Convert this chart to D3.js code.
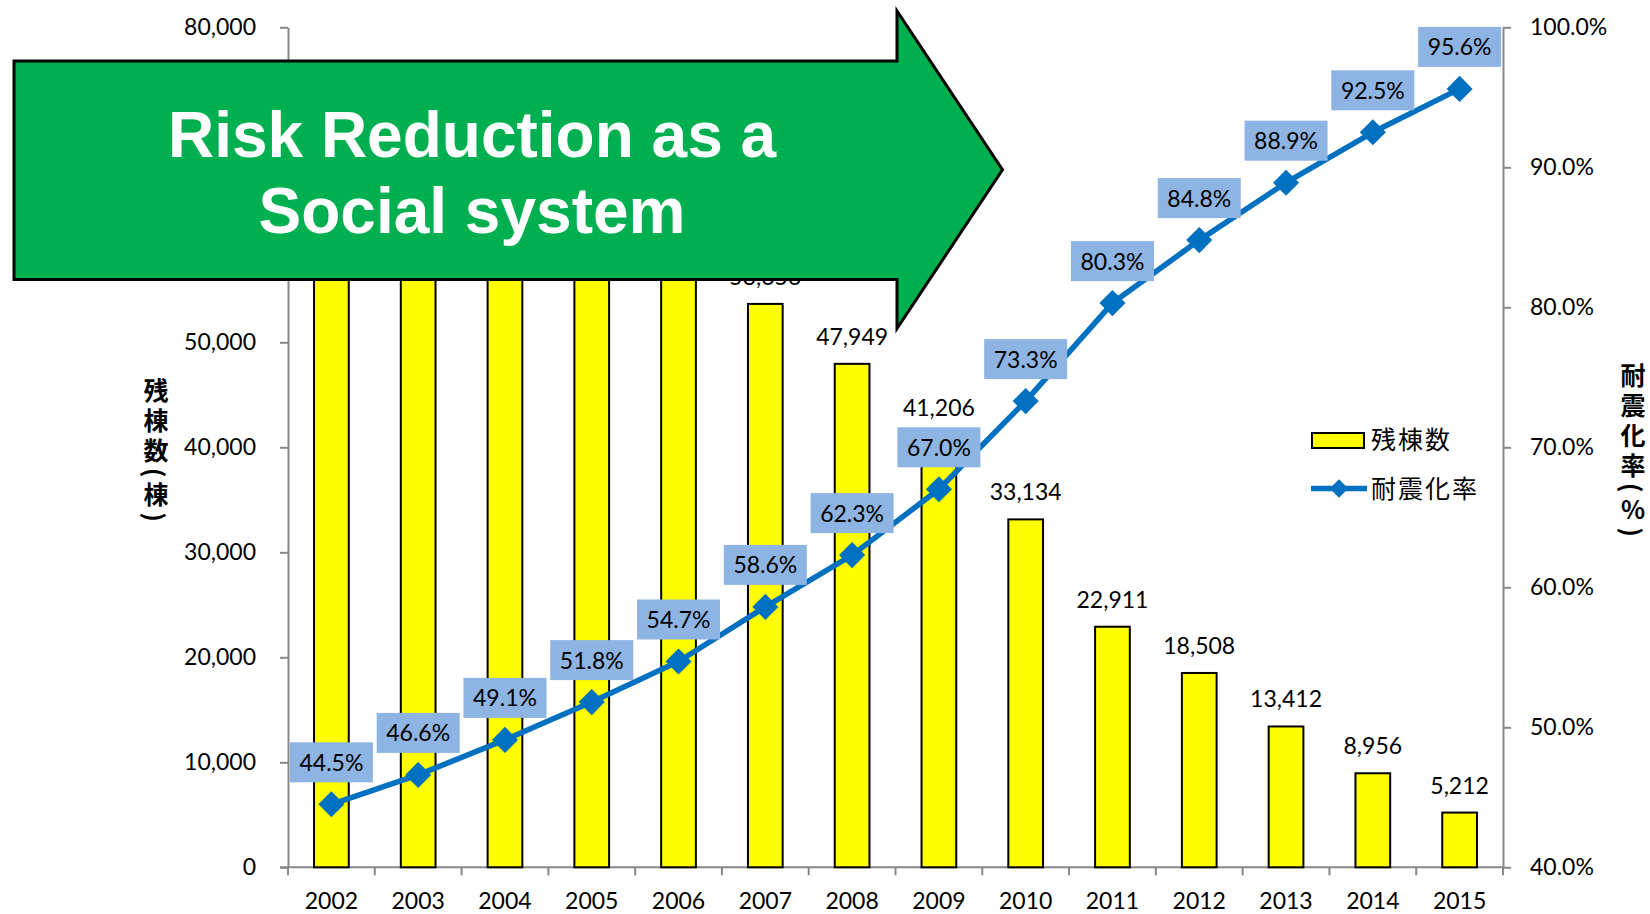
<!DOCTYPE html>
<html>
<head>
<meta charset="utf-8">
<script src="https://cdnjs.cloudflare.com/ajax/libs/d3/7.8.5/d3.min.js"></script>
<style>
  body { margin: 0; background: #fff; }
  svg { display: block; }
  .tick text { font-family: Lato, sans-serif; }
</style>
</head>
<body>
<div id="chart"></div>
<script>
// data
var years = ["2002", "2003", "2004", "2005", "2006", "2007", "2008", "2009", "2010", "2011", "2012", "2013", "2014", "2015"];
// remaining buildings (残棟数); 2002-2006 are hidden under the arrow, estimated
var remaining = [73000, 70200, 66700, 62800, 58900, 53656, 47949, 41206, 33134, 22911, 18508, 13412, 8956, 5212];
// seismic retrofit rate (耐震化率)
var rate = [0.445, 0.466, 0.491, 0.518, 0.547, 0.586, 0.623, 0.670, 0.733, 0.803, 0.848, 0.889, 0.925, 0.956];
var leftTicks = [0, 10000, 20000, 30000, 40000, 50000, 60000, 70000, 80000];
var rightTicks = [0.4, 0.5, 0.6, 0.7, 0.8, 0.9, 1.0];
var legendLabels = ["残棟数", "耐震化率"];
var leftTitle = "残棟数(棟)";
var rightTitle = "耐震化率(％)";
var bannerLines = ["Risk Reduction as a", "Social system"];

var width = 1650, height = 914;
var margin = {top: 27.3, right: 147, bottom: 46.7, left: 288};
var plotRight = width - margin.right;
var plotBottom = height - margin.bottom;
var fontSize = 23;

var svg = d3.select("#chart").append("svg")
    .attr("width", width)
    .attr("height", height);

var x = d3.scaleBand().domain(years).range([margin.left, plotRight]).padding(0);
var yLeft = d3.scaleLinear().domain([0, 80000]).range([plotBottom, margin.top]);
var yRight = d3.scaleLinear().domain([0.4, 1.0]).range([plotBottom, margin.top]);
var bw = x.bandwidth();
var axisColor = "#888888";

// banner arrow geometry (drawn last, over the chart)
var arrow = {left: 14, top: 61, bottom: 279.5, neck: 897, headTop: 11, headBottom: 328.5, tip: 1002.5};

// left axis
var leftAxis = d3.axisLeft(yLeft)
    .tickValues(leftTicks)
    .tickFormat(d3.format(","))
    .tickSize(8)
    .tickSizeOuter(0)
    .tickPadding(24);
var gl = svg.append("g")
    .attr("transform", "translate(" + margin.left + ",0)")
    .call(leftAxis);

// right axis
var rightAxis = d3.axisRight(yRight)
    .tickValues(rightTicks)
    .tickFormat(d3.format(".1%"))
    .tickSize(8)
    .tickSizeOuter(0)
    .tickPadding(19);
var gr = svg.append("g")
    .attr("transform", "translate(" + plotRight + ",0)")
    .call(rightAxis);

[gl, gr].forEach(function (g) {
    g.select(".domain").attr("stroke", axisColor).attr("stroke-width", 2);
    g.selectAll(".tick line").attr("stroke", axisColor).attr("stroke-width", 2);
    g.selectAll(".tick text").attr("font-size", fontSize).attr("fill", "#000");
});

// bottom axis: line, ticks on band boundaries, labels at band centres
var gb = svg.append("g");
gb.append("line")
    .attr("x1", margin.left - 8).attr("x2", plotRight)
    .attr("y1", plotBottom).attr("y2", plotBottom)
    .attr("stroke", axisColor).attr("stroke-width", 2);
var bounds = years.map(function (d) { return x(d); }).concat([x(years[years.length - 1]) + bw]);
gb.selectAll(".xtick").data(bounds).enter().append("line")
    .attr("x1", function (d) { return d; })
    .attr("x2", function (d) { return d; })
    .attr("y1", plotBottom).attr("y2", plotBottom + 8)
    .attr("stroke", axisColor).attr("stroke-width", 2);
gb.selectAll(".xlabel").data(years).enter().append("text")
    .attr("x", function (d) { return x(d) + bw / 2; })
    .attr("y", plotBottom + 42)
    .attr("text-anchor", "middle")
    .attr("font-family", "Lato, sans-serif")
    .attr("font-size", fontSize)
    .attr("fill", "#000")
    .text(function (d) { return d; });

// bars
svg.append("g").selectAll("rect").data(remaining).enter().append("rect")
    .attr("x", function (d, i) { return x(years[i]) + bw * 0.3; })
    .attr("y", function (d) { return yLeft(d); })
    .attr("width", bw * 0.4)
    .attr("height", function (d) { return plotBottom - yLeft(d); })
    .attr("fill", "#FFFF00")
    .attr("stroke", "#000")
    .attr("stroke-width", 2);

// bar value labels; the ones lying entirely under the arrow are not visible
var barLabels = remaining.map(function (d, i) { return {v: d, year: years[i]}; })
    .filter(function (d) { return yLeft(d.v) - 19 > arrow.bottom; });
svg.append("g").selectAll("text").data(barLabels).enter().append("text")
    .attr("x", function (d) { return x(d.year) + bw / 2; })
    .attr("y", function (d) { return yLeft(d.v) - 19; })
    .attr("text-anchor", "middle")
    .attr("font-family", "Lato, sans-serif")
    .attr("font-size", fontSize)
    .attr("fill", "#000")
    .text(function (d) { return d3.format(",")(d.v); });

// line
var lineColor = "#0070C0";
var line = d3.line()
    .x(function (d, i) { return x(years[i]) + bw / 2; })
    .y(function (d) { return yRight(d); });
svg.append("path").datum(rate)
    .attr("d", line)
    .attr("fill", "none")
    .attr("stroke", lineColor)
    .attr("stroke-width", 5.5)
    .attr("stroke-linejoin", "round");

var diamond = d3.symbol().type(d3.symbolSquare).size(340);
svg.append("g").selectAll("path").data(rate).enter().append("path")
    .attr("d", diamond)
    .attr("transform", function (d, i) {
        return "translate(" + (x(years[i]) + bw / 2) + "," + yRight(d) + ") rotate(45)";
    })
    .attr("fill", lineColor);

// rate labels in boxes
var lbl = svg.append("g").selectAll("g").data(rate).enter().append("g")
    .attr("transform", function (d, i) {
        return "translate(" + (x(years[i]) + bw / 2) + "," + (yRight(d) - 42) + ")";
    });
lbl.append("rect")
    .attr("x", -41.5).attr("y", -20)
    .attr("width", 83).attr("height", 40)
    .attr("fill", "#8DB4E2");
lbl.append("text")
    .attr("y", 8.5)
    .attr("text-anchor", "middle")
    .attr("font-family", "Lato, sans-serif")
    .attr("font-size", fontSize)
    .attr("fill", "#000")
    .text(function (d) { return d3.format(".1%")(d); });

// legend
var lg = svg.append("g");
lg.append("rect")
    .attr("x", 1312).attr("y", 433)
    .attr("width", 52).attr("height", 15)
    .attr("fill", "#FFFF00").attr("stroke", "#000").attr("stroke-width", 2);
lg.append("line")
    .attr("x1", 1311).attr("x2", 1367)
    .attr("y1", 488.5).attr("y2", 488.5)
    .attr("stroke", lineColor).attr("stroke-width", 5.5);
lg.append("path")
    .attr("d", d3.symbol().type(d3.symbolSquare).size(170))
    .attr("transform", "translate(1339,488.5) rotate(45)")
    .attr("fill", lineColor);
lg.selectAll("text").data(legendLabels).enter().append("text")
    .attr("x", 1371)
    .attr("y", function (d, i) { return 449 + i * 48.5; })
    .attr("font-family", "'Noto Sans CJK JP', sans-serif")
    .attr("font-size", 25)
    .attr("letter-spacing", 2)
    .attr("fill", "#000")
    .text(function (d) { return d; });

// vertical axis titles
function vTitle(tx, ty, txt) {
    svg.append("text")
        .attr("x", tx).attr("y", ty)
        .style("writing-mode", "vertical-rl")
        .attr("font-family", "'Noto Sans CJK JP', sans-serif")
        .attr("font-size", 25)
        .attr("font-weight", "bold")
        .attr("letter-spacing", 5)
        .attr("fill", "#000")
        .text(txt);
}
vTitle(156, 378, leftTitle);
vTitle(1633, 363, rightTitle);

// banner arrow
var midY = (arrow.headTop + arrow.headBottom) / 2;
var arrowPts = [
    [arrow.left, arrow.top], [arrow.neck, arrow.top], [arrow.neck, arrow.headTop],
    [arrow.tip, midY], [arrow.neck, arrow.headBottom], [arrow.neck, arrow.bottom],
    [arrow.left, arrow.bottom]
];
svg.append("path")
    .attr("d", "M" + arrowPts.join("L") + "Z")
    .attr("fill", "#00B050")
    .attr("stroke", "#000")
    .attr("stroke-width", 3)
    .attr("stroke-linejoin", "miter");

svg.append("g").selectAll("text").data(bannerLines).enter().append("text")
    .attr("x", 472)
    .attr("y", function (d, i) { return 156.5 + i * 76.5; })
    .attr("text-anchor", "middle")
    .attr("font-family", "'Liberation Sans', Arial, sans-serif")
    .attr("font-weight", "bold")
    .attr("font-size", 64)
    .attr("fill", "#fff")
    .text(function (d) { return d; });
</script>
</body>
</html>
